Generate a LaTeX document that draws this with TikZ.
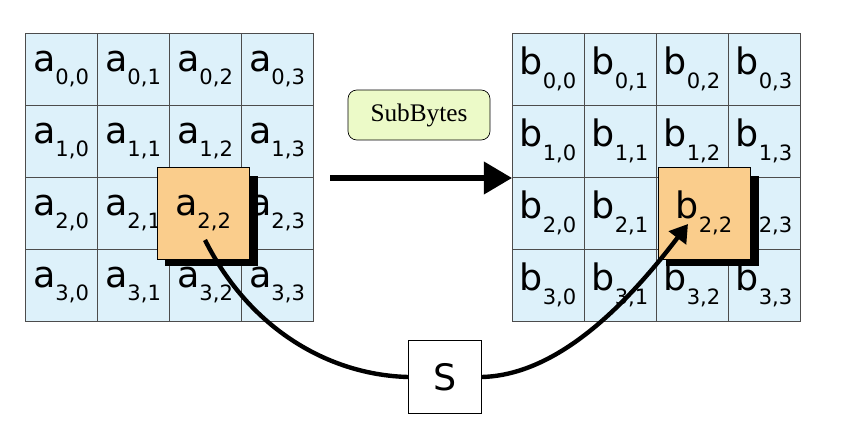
\documentclass[tikz,border=0pt]{standalone}
\usepackage{fontspec}
\setmainfont{DejaVu Sans}
\newfontfamily\serifbox{Liberation Serif}
\usetikzlibrary{arrows.meta, calc}
\definecolor{cellblue}{RGB}{221,241,250}
\definecolor{cellorange}{RGB}{250,205,140}
\definecolor{boxgreen}{RGB}{236,250,200}
\newcommand{\idx}[1]{\raisebox{-0.7ex}{\large #1}}
\tikzset{cell/.style={rectangle, draw=black!70, fill=cellblue, minimum size=1.44cm, font=\huge, inner sep=0pt},
         hicell/.style={rectangle, draw=black, fill=cellorange, minimum size=1.84cm, font=\huge, inner sep=0pt},
         arrow/.style={line width=3pt, -{Triangle[length=16pt, width=18pt]}}}
\begin{document}
\begin{tikzpicture}[x=0.02cm, y=-0.02cm]
    \useasboundingbox (0,0) rectangle (860,442);
    % the two grids
    \foreach \i in {0,...,3} {
        \foreach \j in {0,...,3} {
            \node (a-\i-\j) [cell] at ({25+36+72*\j},{33+36+72*\i}) {a\idx{\i,\j}};
            \node (b-\i-\j) [cell] at ({512+36+72*\j},{33+36+72*\i}) {b\idx{\i,\j}};
        }
    }
    % highlighted cells with shadow
    \fill[black] (165,176) rectangle (258,266);
    \node (a22) [hicell] at (203,213) {a\idx{2,2}};
    \fill[black] (666,176) rectangle (759,266);
    \node (b22) [hicell] at (704,213) {b\idx{2,2}};

    \node (subbytes) [rectangle, rounded corners=5pt, draw=black, fill=boxgreen, minimum width=2.84cm, minimum height=1cm, font=\serifbox\Large] at (419,115) {SubBytes};
    \coordinate (from) at (330,178);
    \coordinate (to) at (512,178);
    \draw [arrow] (from) -- (to);

    \node (sbox) [rectangle, draw=black, fill=white, minimum size=1.46cm, font=\huge] at (445,377) {S};
    \coordinate (astart) at (205,240);
    \coordinate (bend) at (688,224);
    \draw [line width=2.5pt] (astart) .. controls (250,330) and (330,375) .. (sbox.west);
    \draw [line width=2.5pt, -{Triangle[length=10pt, width=12pt]}] (sbox.east) .. controls (560,375) and (630,300) .. (bend);
\end{tikzpicture}
\end{document}
